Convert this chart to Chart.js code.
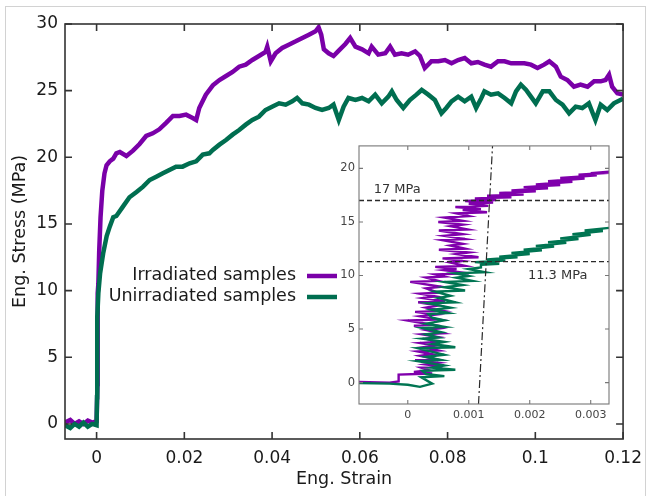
<!DOCTYPE html>
<html>
<head>
    <meta http-equiv="Content-Type" content="text/html; charset=UTF-8" />
    <script src="https://cdn.jsdelivr.net/npm/chart.js"></script>
    <title>Stress-strain</title>
<style>
    body { margin:0; background:white; overflow:hidden; }
    #wrap { position:relative; width:651px; height:496px; }
    #frame { position:absolute; left:5px; top:6px; width:639px; height:500px; border:1px solid #d2d2d2; }
    #main { position:absolute; left:0; top:0; }
    #inset { position:absolute; left:320px; top:135px; }
</style>
</head>
<body>
<div id="wrap">
    <div id="frame"></div>
    <canvas id="main" width="651" height="496"></canvas>
    <canvas id="inset" width="300" height="290"></canvas>
</div>

<script>
    // [strain, stress]
    var irradiated = [
        [-0.0072,0.1],[-0.006,0.3],[-0.005,0.0],[-0.004,0.2],[-0.003,0.0],[-0.002,0.25],[-0.001,0.1],[0.0,0.2],
        [0.0002,3],[0.0003,6],[0.0002,9.8],[0.0004,10.5],[0.0006,13],[0.0009,15.5],[0.0013,17.5],[0.0018,18.8],
        [0.00227,19.4],[0.003,19.7],[0.0038,19.9],[0.0045,20.3],[0.0053,20.4],[0.0068,20.1],[0.0083,20.5],[0.0098,21.0],
        [0.0113,21.6],[0.0128,21.8],[0.0143,22.1],[0.0159,22.6],[0.0174,23.1],[0.0189,23.1],[0.0204,23.2],[0.0219,22.95],
        [0.0227,22.8],[0.0234,23.7],[0.0249,24.7],[0.0265,25.4],[0.028,25.8],[0.0295,26.1],[0.031,26.4],[0.0325,26.8],
        [0.034,26.95],[0.0355,27.3],[0.037,27.6],[0.0385,27.9],[0.0389,28.3],[0.0397,27.2],[0.0408,27.8],[0.0423,28.2],
        [0.0438,28.45],[0.0454,28.7],[0.0469,28.95],[0.0484,29.2],[0.0499,29.45],[0.0506,29.75],[0.0512,29.2],[0.0518,28.1],
        [0.0529,27.8],[0.054,27.6],[0.0552,28.0],[0.0567,28.5],[0.0578,28.95],[0.059,28.3],[0.0605,28.1],[0.062,27.8],
        [0.0627,28.3],[0.0642,27.7],[0.0658,27.8],[0.0669,28.3],[0.068,27.7],[0.0695,27.8],[0.071,27.7],[0.0726,27.95],
        [0.0737,27.6],[0.0748,26.7],[0.0763,27.2],[0.0779,27.2],[0.0794,27.3],[0.0809,27.05],[0.0824,27.3],[0.0839,27.45],
        [0.0854,27.05],[0.0869,27.15],[0.0884,26.95],[0.0899,26.8],[0.0915,27.2],[0.093,27.2],[0.0945,27.05],[0.096,27.05],
        [0.0975,27.05],[0.099,26.95],[0.1005,26.7],[0.102,26.95],[0.1032,27.2],[0.1047,26.8],[0.1058,26.05],[0.1073,25.8],
        [0.1088,25.3],[0.1103,25.45],[0.1119,25.3],[0.1134,25.7],[0.1149,25.7],[0.116,25.8],[0.1168,26.2],[0.1175,25.3],
        [0.1187,24.8],[0.12,24.7]
    ];
    var unirradiated = [
        [-0.0072,-0.1],[-0.006,-0.3],[-0.005,0.0],[-0.004,-0.2],[-0.003,0.1],[-0.002,-0.2],[-0.001,0.0],[0.0,-0.1],
        [0.0001,2],[0.0001,5],[0.0002,8],[0.0004,9.8],[0.0008,11.3],[0.0015,12.8],[0.0023,14.1],[0.003,14.8],
        [0.0038,15.5],[0.0045,15.6],[0.006,16.3],[0.0075,17.0],[0.0091,17.4],[0.0106,17.8],[0.0121,18.3],[0.0136,18.55],
        [0.0151,18.8],[0.0166,19.05],[0.0181,19.3],[0.0196,19.3],[0.0212,19.55],[0.0227,19.7],[0.0242,20.2],[0.0257,20.3],
        [0.0265,20.55],[0.028,20.95],[0.0295,21.3],[0.031,21.7],[0.0325,22.05],[0.034,22.45],[0.0355,22.8],[0.037,23.05],
        [0.0385,23.55],[0.04,23.8],[0.0416,24.05],[0.0431,23.95],[0.0446,24.2],[0.0457,24.45],[0.0469,24.05],[0.0484,23.95],
        [0.0499,23.7],[0.0514,23.55],[0.0529,23.7],[0.054,23.95],[0.0552,22.8],[0.0563,23.8],[0.0574,24.45],[0.059,24.3],
        [0.0605,24.45],[0.062,24.2],[0.0635,24.7],[0.065,24.05],[0.0665,24.55],[0.0673,24.95],[0.0684,24.3],[0.0699,23.7],
        [0.0714,24.3],[0.0729,24.7],[0.0741,25.05],[0.0756,24.7],[0.0771,24.3],[0.0786,23.3],[0.0797,23.7],[0.0809,24.2],
        [0.0824,24.55],[0.0839,24.2],[0.0854,24.55],[0.0865,23.7],[0.0877,24.45],[0.0884,24.95],[0.0899,24.7],[0.0915,24.8],
        [0.093,24.45],[0.0945,24.05],[0.0956,24.95],[0.0967,25.45],[0.0979,25.05],[0.099,24.55],[0.1001,24.05],[0.1017,24.95],
        [0.1032,24.95],[0.1047,24.3],[0.1062,23.95],[0.1077,23.3],[0.1092,23.8],[0.1107,23.7],[0.1122,24.05],[0.1137,22.8],
        [0.1149,23.95],[0.1164,23.55],[0.1179,24.05],[0.1194,24.3],[0.12,24.4]
    ];

    // zoomed start of the same curves (inset): strain jitters sideways at almost constant stress
    var insetIrradiated = [
        [-0.0008,0.05],[-0.0003,0.0],[-0.00015,0.1],
        [-0.00015,0.75],[0.0004,0.85],[0.0001,1.0],[0.00035,1.15],
        [0.00022,1.4],[0.00057,1.5],[0.0003,1.7],[0.0005,1.85],
        [0.00012,2.1],[0.00045,2.2],[0.0002,2.5],[0.0004,2.65],
        [0.00017,2.9],[0.0005,3.0],[0.00025,3.3],[0.00045,3.45],
        [0.0002,3.7],[0.00048,3.8],[0.0003,4.1],[0.0005,4.25],
        [0.00024,4.5],[0.00057,4.6],[0.0003,4.9],[0.0005,5.05],
        [0.0001,5.3],[0.0004,5.4],[0.0,5.8],[0.0005,5.9],[0.0002,6.2],[0.00045,6.35],
        [0.00012,6.6],[0.00057,6.7],[0.0003,7.0],[0.0005,7.2],
        [0.00017,7.5],[0.00061,7.6],[0.00025,7.9],[0.00045,8.05],
        [0.0002,8.3],[0.0005,8.4],[0.0003,8.8],[0.00055,8.95],
        [0.00004,9.4],[0.0005,9.5],[0.0003,9.8],[0.0006,9.9],
        [0.00045,10.1],[0.001,10.2],[0.0006,10.5],[0.0008,10.6],
        [0.00045,10.8],[0.00094,10.9],[0.0007,11.2],[0.0009,11.35],
        [0.00057,11.6],[0.00116,11.7],[0.0008,12.0],[0.001,12.15],
        [0.00051,12.4],[0.00094,12.5],[0.0007,12.8],[0.0009,12.95],
        [0.00057,13.3],[0.00094,13.4],[0.0006,13.7],[0.0009,13.85],
        [0.00051,14.2],[0.00098,14.3],[0.0007,14.6],[0.0009,14.75],
        [0.0005,15.0],[0.0009,15.1],[0.0006,15.4],[0.001,15.55],
        [0.0008,15.8],[0.0013,15.9],[0.0009,16.1],[0.0012,16.2],[0.00078,16.4],[0.00132,16.5],[0.001,16.7],
        [0.0014,16.8],[0.00094,16.95],[0.00145,17.05],[0.0011,17.2],[0.0017,17.3],[0.0013,17.45],[0.0019,17.55],
        [0.0015,17.7],[0.0021,17.85],[0.0017,17.95],[0.0023,18.15],[0.0019,18.25],[0.0025,18.45],[0.0021,18.5],
        [0.0027,18.75],[0.0023,18.8],[0.0029,19.05],[0.0025,19.1],[0.0031,19.35],[0.0028,19.4],[0.0033,19.6],
        [0.003,19.55],[0.0033,19.7]
    ];
    var insetUnirradiated = [
        [-0.0008,-0.05],[-0.0003,-0.1],[0.0,-0.2],[0.0002,-0.4],[0.0004,-0.1],
        [0.00022,0.5],[0.0006,0.6],[0.0003,0.8],
        [0.00024,1.1],[0.00078,1.2],[0.0004,1.4],[0.0006,1.6],
        [0.00017,2.0],[0.00055,2.1],[0.0003,2.4],[0.0006,2.6],
        [0.00017,3.2],[0.00078,3.3],[0.0004,3.6],[0.0006,3.8],
        [0.00024,4.1],[0.0005,4.2],[0.0003,4.5],[0.00055,4.7],
        [0.00024,5.1],[0.0006,5.2],[0.0003,5.5],[0.0006,5.8],[0.0004,6.05],
        [0.00034,6.4],[0.00066,6.5],[0.0004,6.8],[0.0007,7.0],
        [0.00034,7.4],[0.00078,7.5],[0.0005,7.9],[0.0007,8.1],
        [0.00045,8.5],[0.00094,8.6],[0.0006,8.9],[0.0009,9.1],
        [0.0006,9.4],[0.00106,9.5],[0.0008,9.8],[0.001,9.95],
        [0.00078,10.2],[0.00127,10.3],[0.001,10.6],[0.0012,10.75],
        [0.0012,11.0],[0.0015,11.1],[0.0011,11.25],[0.0016,11.4],[0.0013,11.5],[0.0018,11.7],[0.0015,11.75],
        [0.002,12.0],[0.0017,12.1],[0.0022,12.35],[0.0019,12.4],[0.0024,12.7],[0.0021,12.75],[0.0026,13.05],
        [0.0023,13.1],[0.0028,13.4],[0.0025,13.45],[0.003,13.8],[0.0027,13.85],[0.0032,14.15],[0.0029,14.2],
        [0.0033,14.45]
    ];

    var yieldStress = [17, 11.3];
    var yieldText = ['17 MPa', '11.3 MPa'];
    var offsetLineStrain = [0.00116, 0.00139];
    var offsetLineStress = [-2, 22.1];

    var mainStrainTicks = [0, 0.02, 0.04, 0.06, 0.08, 0.1, 0.12];
    var mainStressTicks = [0, 5, 10, 15, 20, 25, 30];
    var insetStrainTicks = [0, 0.001, 0.002, 0.003];
    var insetStressTicks = [0, 5, 10, 15, 20];

    var PURPLE = '#7a00a8';
    var GREEN = '#006e50';
    var FONT = '"DejaVu Sans"';

    var pts = function(arr) {
        return arr.map(function(p) { return {x: p[0], y: p[1]}; });
    };

    // gnuplot-like box with inward ticks on all four sides
    var frameTicks = {
        id: 'frameTicks',
        afterDraw: function(chart, args, opts) {
            var ctx = chart.ctx, a = chart.chartArea, x = chart.scales.x, y = chart.scales.y;
            ctx.save();
            ctx.strokeStyle = opts.color;
            ctx.lineWidth = opts.width;
            ctx.beginPath();
            x.ticks.forEach(function(t) {
                var px = x.getPixelForValue(t.value);
                ctx.moveTo(px, a.bottom); ctx.lineTo(px, a.bottom - opts.len);
                ctx.moveTo(px, a.top); ctx.lineTo(px, a.top + opts.len);
            });
            y.ticks.forEach(function(t) {
                var py = y.getPixelForValue(t.value);
                ctx.moveTo(a.left, py); ctx.lineTo(a.left + opts.len, py);
                ctx.moveTo(a.right, py); ctx.lineTo(a.right - opts.len, py);
            });
            ctx.stroke();
            ctx.strokeRect(a.left, a.top, a.right - a.left, a.bottom - a.top);
            ctx.restore();
        }
    };

    // legend: text right aligned, line sample on the right
    var sideLegend = {
        id: 'sideLegend',
        afterDraw: function(chart, args, opts) {
            var ctx = chart.ctx;
            ctx.save();
            ctx.font = opts.size + 'px ' + FONT;
            ctx.fillStyle = '#1a1a1a';
            ctx.textAlign = 'right';
            ctx.textBaseline = 'middle';
            opts.items.forEach(function(idx, i) {
                var ds = chart.data.datasets[idx];
                var yy = opts.y + i * opts.step;
                ctx.fillText(ds.label, opts.x, yy);
                ctx.strokeStyle = ds.borderColor;
                ctx.lineWidth = 4.5;
                ctx.beginPath();
                ctx.moveTo(opts.x + 11, yy + 1);
                ctx.lineTo(opts.x + 41, yy + 1);
                ctx.stroke();
            });
            ctx.restore();
        }
    };

    // "17 MPa" / "11.3 MPa" notes placed in data coordinates
    var yieldNotes = {
        id: 'yieldNotes',
        afterDraw: function(chart, args, opts) {
            var ctx = chart.ctx, x = chart.scales.x, y = chart.scales.y;
            ctx.save();
            ctx.font = '13px ' + FONT;
            ctx.fillStyle = '#333';
            ctx.textAlign = 'left';
            ctx.textBaseline = 'middle';
            opts.notes.forEach(function(n) {
                ctx.fillText(n.text, x.getPixelForValue(n.x), y.getPixelForValue(n.y));
            });
            ctx.restore();
        }
    };

    var noGrid = { display: false, drawTicks: false };

    new Chart(document.getElementById('main'), {
        type: 'scatter',
        data: {
            datasets: [
                { label: 'Unirradiated samples', data: pts(unirradiated), showLine: true, borderColor: GREEN,
                  borderWidth: 4.5, pointRadius: 0, tension: 0, order: 0 },
                { label: 'Irradiated samples', data: pts(irradiated), showLine: true, borderColor: PURPLE,
                  borderWidth: 4.5, pointRadius: 0, tension: 0, order: 1 }
            ]
        },
        options: {
            responsive: false,
            animation: false,
            events: [],
            layout: { padding: { left: 0, top: 24, right: 25, bottom: 0 }, autoPadding: false },
            scales: {
                x: {
                    type: 'linear', min: -0.0072, max: 0.12,
                    afterBuildTicks: function(s) { s.ticks = mainStrainTicks.map(function(v) { return {value: v}; }); },
                    afterFit: function(s) { s.height = 57; },
                    grid: noGrid, border: { display: false },
                    ticks: { padding: 9, color: '#1a1a1a', font: { family: FONT, size: 17 },
                             maxRotation: 0, autoSkip: false, callback: function(v) { return String(v); } },
                    title: { display: true, text: 'Eng. Strain', color: '#1a1a1a',
                             font: { family: FONT, size: 17.5 }, padding: { top: 0, bottom: 6.5 } }
                },
                y: {
                    type: 'linear', min: -1.13, max: 30,
                    afterBuildTicks: function(s) { s.ticks = mainStressTicks.map(function(v) { return {value: v}; }); },
                    afterFit: function(s) { s.width = 65; },
                    grid: noGrid, border: { display: false },
                    ticks: { padding: 7, color: '#1a1a1a', font: { family: FONT, size: 17 }, autoSkip: false },
                    title: { display: true, text: 'Eng. Stress (MPa)', color: '#1a1a1a',
                             font: { family: FONT, size: 17.5 }, padding: { top: 9.5, bottom: 0 } }
                }
            },
            plugins: {
                legend: { display: false },
                tooltip: { enabled: false },
                frameTicks: { color: '#333', width: 1.6, len: 7 },
                sideLegend: { items: [1, 0], x: 296, y: 275, step: 21, size: 17.5 }
            }
        },
        plugins: [frameTicks, sideLegend]
    });

    var dashColor = '#2a2a2a';
    new Chart(document.getElementById('inset'), {
        type: 'scatter',
        data: {
            datasets: [
                { data: [{x: -0.0008, y: yieldStress[0]}, {x: 0.0033, y: yieldStress[0]}], showLine: true,
                  borderColor: dashColor, borderWidth: 1.3, borderDash: [5, 3], pointRadius: 0, order: 0 },
                { data: [{x: -0.0008, y: yieldStress[1]}, {x: 0.0033, y: yieldStress[1]}], showLine: true,
                  borderColor: dashColor, borderWidth: 1.3, borderDash: [5, 3], pointRadius: 0, order: 0 },
                { data: [{x: offsetLineStrain[0], y: offsetLineStress[0]}, {x: offsetLineStrain[1], y: offsetLineStress[1]}],
                  showLine: true, borderColor: dashColor, borderWidth: 1.2, borderDash: [8, 3, 2, 3], pointRadius: 0, order: 0 },
                { data: pts(insetUnirradiated), showLine: true, borderColor: '#007552', borderWidth: 2.4,
                  pointRadius: 0, tension: 0, order: 1 },
                { data: pts(insetIrradiated), showLine: true, borderColor: '#8000ac', borderWidth: 2.4,
                  pointRadius: 0, tension: 0, order: 2 }
            ]
        },
        options: {
            responsive: false,
            animation: false,
            events: [],
            layout: { padding: { left: 0, top: 10, right: 11, bottom: 0 }, autoPadding: false },
            scales: {
                x: {
                    type: 'linear', min: -0.0008, max: 0.0033,
                    afterBuildTicks: function(s) { s.ticks = insetStrainTicks.map(function(v) { return {value: v}; }); },
                    afterFit: function(s) { s.height = 21; },
                    grid: noGrid, border: { display: false },
                    ticks: { padding: 5, color: '#444', font: { family: FONT, size: 11 },
                             maxRotation: 0, autoSkip: false, callback: function(v) { return String(v); } }
                },
                y: {
                    type: 'linear', min: -2, max: 22.1,
                    afterBuildTicks: function(s) { s.ticks = insetStressTicks.map(function(v) { return {value: v}; }); },
                    afterFit: function(s) { s.width = 39; },
                    grid: noGrid, border: { display: false },
                    ticks: { padding: 4, color: '#444', font: { family: FONT, size: 11.5 }, autoSkip: false }
                }
            },
            plugins: {
                legend: { display: false },
                tooltip: { enabled: false },
                frameTicks: { color: '#777', width: 1.1, len: 4 },
                yieldNotes: { notes: [
                    { text: yieldText[0], x: -0.00056, y: 18.0 },
                    { text: yieldText[1], x: 0.00197, y: 10.0 }
                ] }
            }
        },
        plugins: [frameTicks, yieldNotes]
    });
</script>
</body>
</html>
